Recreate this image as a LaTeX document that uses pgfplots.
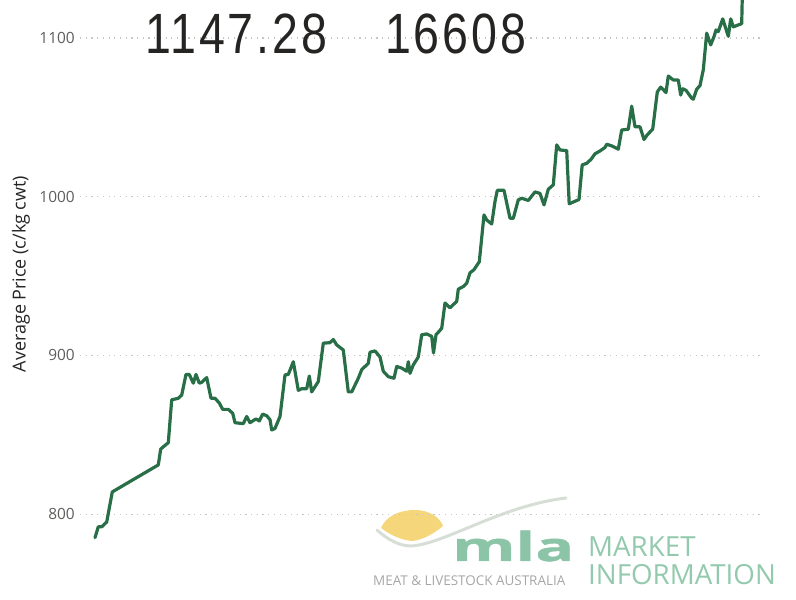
\documentclass[border=0pt]{standalone}
\usepackage{fontspec}
\setmainfont{Open Sans}
\newfontfamily\bigfont[FakeStretch=0.82,LetterSpace=5]{Liberation Sans}
\newfontfamily\mlafont[FakeStretch=1.62,FakeBold=1.2]{Open Sans}
\usepackage{pgfplots}
\pgfplotsset{compat=1.18}
\definecolor{linegreen}{RGB}{40,110,70}
\definecolor{gridgray}{RGB}{200,198,196}
\definecolor{tickgray}{RGB}{96,94,92}
\definecolor{labeldark}{RGB}{37,36,35}
\definecolor{mlagreen}{RGB}{139,196,166}
\definecolor{mktgreen}{RGB}{147,201,173}
\definecolor{logogray}{RGB}{166,166,166}
\definecolor{sunyellow}{RGB}{246,214,122}
\definecolor{swoosh}{RGB}{214,222,214}
\begin{document}
\begin{tikzpicture}[x=1bp,y=1bp]
\path[use as bounding box] (-80,0) rectangle (716,600);
% logo (watermark)
\fill[sunyellow] (301,72) .. controls (306,84) and (320,90) .. (335,90)
  .. controls (350,90) and (360,82) .. (363,74)
  .. controls (352,65) and (342,60) .. (332,59)
  .. controls (320,60) and (309,66) .. cycle;
\draw[swoosh, line width=3bp, line cap=round] (297,70) .. controls (308,60) and (320,54) .. (331,54)
  .. controls (365,56) and (420,94) .. (486,102);
\node[anchor=base west, inner sep=0pt, text=mlagreen, font=\mlafont\bfseries\fontsize{40}{40}\selectfont] at (372,39) {mla};
\node[anchor=base west, inner sep=0pt, text=logogray, font=\fontsize{13.5}{13.5}\selectfont] at (293,14) {MEAT \& LIVESTOCK AUSTRALIA};
\node[anchor=base west, inner sep=0pt, text=mktgreen, font=\fontsize{27.8}{27.8}\selectfont] at (508,43) {MARKET};
\node[anchor=base west, inner sep=0pt, text=mktgreen, font=\fontsize{27.8}{27.8}\selectfont] at (508,15) {INFORMATION};
\begin{axis}[
  at={(0,0)}, anchor=south west,
  scale only axis, width=680bp, height=600bp,
  xmin=80, xmax=760, ymin=745.9, ymax=1123.9,
  axis line style={draw=none},
  xtick=\empty,
  ytick={800,900,1000,1100},
  tick style={draw=none},
  major tick length=0pt,
  ymajorgrids,
  major grid style={gridgray, line width=1.2bp, dash pattern=on 1.2bp off 4.5bp},
  yticklabel style={font=\fontsize{15.5}{15.5}\selectfont, text=tickgray, anchor=east, inner sep=0pt, xshift=-5bp},
  /pgf/number format/assume math mode=true,
  /pgf/number format/1000 sep={},
]
\addplot[linegreen, line width=3.2bp, line join=round, line cap=round] coordinates {
(95,785.2) (98.3,792) (101.7,792) (106.7,795) (112.3,814) (158.3,831) (160.7,841)
(168.3,845) (171.7,872) (178.3,873) (181.7,875) (186,888) (189.3,888) (193.3,882.5)
(196,888) (199.3,882.5) (201.7,883) (206.7,886) (211,873) (215,873) (219.3,870)
(222.7,866) (228.3,866) (232.7,863.5) (235,857.6) (243.3,857) (246.7,861.5) (250,857.6)
(256,860) (259.3,858.7) (262.7,863) (266.7,862) (270,859.5) (271.7,853) (275,854)
(280,861.5) (285,887.7) (288.3,888) (293.3,896) (298.3,878) (301.7,879) (306.7,879)
(309.3,887) (311.7,877) (318.3,883.5) (323.3,907.7) (330,908) (333.3,910) (336.7,906.6)
(343.3,903.4) (348.3,877) (351.7,877) (358.3,885.6) (361.7,891) (368.3,895) (370,902)
(375,902.8) (380,899) (383.3,890) (388.3,886.6) (394,885.6) (396.7,893) (401.7,892)
(406.7,890) (408.3,896) (410,888.7) (413.3,894) (418.3,899) (421.7,913) (426.7,913.5)
(431.7,912) (433.5,901.5) (436,913) (441.7,917) (445,933) (450,930) (456.7,934)
(458.3,941.7) (463.3,943.4) (466.7,945.5) (470,952) (474,954) (479.3,959) (484,988.5)
(486.7,985.3) (491.7,982.8) (495,997) (497.3,1004) (504,1004) (510,986.4) (513.3,986.4)
(518.3,998) (521.7,999) (528.3,997.6) (535,1003) (540,1002) (544,994.8) (548.3,1004.7)
(553.3,1007.4) (556.7,1032.6) (560,1029.4) (566.7,1029) (569.2,995.5) (579,998.2)
(582.2,1020) (586.7,1021) (591,1023.5) (595,1027) (600,1028.8) (605,1031) (606.7,1033)
(611.7,1032) (618.3,1029.9) (621.7,1042) (628.3,1042.5) (631.7,1057) (635,1044)
(640,1044) (644,1036) (647.3,1039) (652.7,1042.5) (657.3,1066) (660.7,1069) (666,1065.6)
(668.3,1076) (673.3,1073.5) (678.3,1073.5) (680.7,1064) (682.7,1068) (686,1067)
(691.7,1062) (693.3,1061.4) (696.7,1067.7) (700,1070) (703.3,1080) (706.7,1103)
(710.7,1095.6) (714,1100.8) (716,1105) (718.3,1104) (722.7,1112) (728.3,1101)
(730.7,1112) (733.3,1107) (741.7,1109) (743,1147.28)
};
\end{axis}
\node[rotate=90, inner sep=0pt, text=labeldark, font=\fontsize{18}{18}\selectfont] at (-59,326) {Average Price (c/kg cwt)};
\node[anchor=base west, inner sep=0pt, text=labeldark, font=\bigfont\fontsize{57}{57}\selectfont] at (65,546) {1147.28};
\node[anchor=base west, inner sep=0pt, text=labeldark, font=\bigfont\fontsize{57}{57}\selectfont] at (305,546) {16608};
\end{tikzpicture}
\end{document}
